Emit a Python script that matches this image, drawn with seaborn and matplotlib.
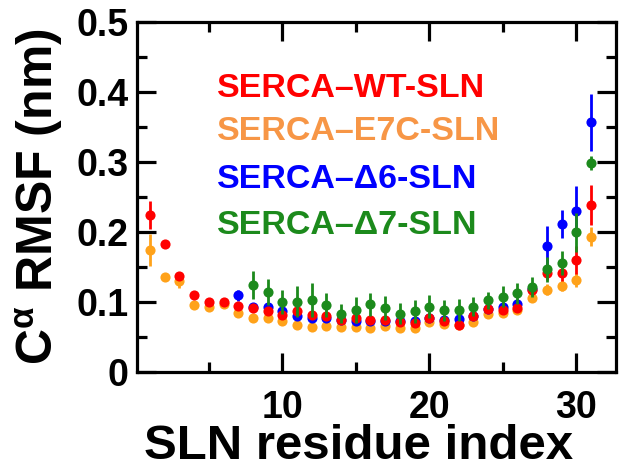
import numpy as np
import seaborn as sns
from matplotlib import pyplot as plt
from matplotlib.ticker import MultipleLocator

# RMSF per residue (nm)
res_wt = list(range(1, 32))
wt = [0.224, 0.183, 0.137, 0.110, 0.100, 0.099, 0.094, 0.091, 0.086, 0.081,
      0.086, 0.081, 0.079, 0.074, 0.077, 0.074, 0.074, 0.071, 0.070, 0.076,
      0.072, 0.067, 0.079, 0.089, 0.088, 0.091, 0.117, 0.141, 0.141, 0.160, 0.238]
wt_err = [0.020, 0.004, 0.004, 0.004, 0.004, 0.004, 0.004, 0.004, 0.004, 0.004,
          0.004, 0.004, 0.004, 0.004, 0.004, 0.004, 0.004, 0.004, 0.004, 0.004,
          0.004, 0.004, 0.004, 0.005, 0.005, 0.005, 0.008, 0.010, 0.012, 0.020, 0.028]

res_e7c = list(range(1, 32))
e7c = [0.174, 0.135, 0.129, 0.095, 0.092, 0.096, 0.084, 0.077, 0.077, 0.072,
       0.067, 0.064, 0.065, 0.064, 0.064, 0.063, 0.065, 0.063, 0.063, 0.071,
       0.068, 0.067, 0.071, 0.083, 0.084, 0.088, 0.105, 0.117, 0.123, 0.131, 0.193]
e7c_err = [0.023, 0.004, 0.010, 0.004, 0.004, 0.004, 0.004, 0.004, 0.004, 0.004,
           0.004, 0.004, 0.004, 0.004, 0.004, 0.004, 0.004, 0.004, 0.004, 0.004,
           0.004, 0.004, 0.004, 0.004, 0.004, 0.005, 0.006, 0.008, 0.008, 0.010, 0.013]

res_d6 = list(range(7, 32))
d6 = [0.109, 0.092, 0.093, 0.086, 0.079, 0.076, 0.077, 0.074, 0.073, 0.072,
      0.073, 0.072, 0.073, 0.076, 0.074, 0.075, 0.080, 0.090, 0.092, 0.097,
      0.118, 0.179, 0.211, 0.229, 0.356]
d6_err = [0.008, 0.004, 0.004, 0.004, 0.004, 0.004, 0.004, 0.004, 0.004, 0.004,
          0.004, 0.004, 0.004, 0.004, 0.004, 0.004, 0.004, 0.005, 0.005, 0.006,
          0.008, 0.029, 0.020, 0.036, 0.041]

res_d7 = list(range(8, 32))
d7 = [0.124, 0.114, 0.100, 0.100, 0.102, 0.095, 0.083, 0.088, 0.096, 0.091,
      0.083, 0.086, 0.093, 0.088, 0.088, 0.093, 0.102, 0.107, 0.112, 0.121,
      0.146, 0.155, 0.199, 0.298]
d7_err = [0.020, 0.019, 0.017, 0.022, 0.024, 0.017, 0.014, 0.018, 0.017, 0.017,
          0.015, 0.017, 0.016, 0.015, 0.016, 0.014, 0.012, 0.015, 0.015, 0.014,
          0.018, 0.017, 0.028, 0.010]

labels = ["SERCA\u2013WT-SLN", "SERCA\u2013E7C-SLN", "SERCA\u2013\u03946-SLN", "SERCA\u2013\u03947-SLN"]

sns.set_theme(style="ticks")
plt.rcParams['font.family'] = ['Liberation Sans', 'DejaVu Sans']
plt.rcParams['font.weight'] = 'bold'
plt.rcParams['text.color'] = 'black'
plt.rcParams['axes.labelcolor'] = 'black'
plt.rcParams['xtick.color'] = 'black'
plt.rcParams['ytick.color'] = 'black'
plt.rcParams['mathtext.fontset'] = 'custom'
plt.rcParams['mathtext.rm'] = 'Liberation Sans:bold'
plt.rcParams['mathtext.it'] = 'Liberation Sans:bold'
plt.rcParams['mathtext.bf'] = 'Liberation Sans:bold'

fig = plt.figure(figsize=(6.19, 4.71), dpi=100)
ax = fig.add_axes([0.221, 0.211, 0.774, 0.743])

series = [
    (res_e7c, e7c, e7c_err, '#FFA21A', 1),
    (res_d6, d6, d6_err, '#0000FF', 2),
    (res_wt, wt, wt_err, '#FF0000', 3),
    (res_d7, d7, d7_err, '#1C8A1C', 4),
]
for x, y, e, c, z in series:
    ax.errorbar(x, y, yerr=e, fmt='o', color=c, ms=7.3, mew=0,
                elinewidth=2, capsize=3.5, capthick=2.2, zorder=z)

text_colors = ['#FF0000', '#F79646', '#0000FF', '#1C8A1C']
text_y = [0.808, 0.687, 0.550, 0.417]
for lab, c, ty in zip(labels, text_colors, text_y):
    ax.text(0.167, ty, lab, color=c, fontsize=24.5, fontweight='bold',
            transform=ax.transAxes, va='center', ha='left')

ax.set_xlim(0.1, 32.7)
ax.set_ylim(0, 0.5)
ax.xaxis.set_major_locator(MultipleLocator(10))
ax.xaxis.set_minor_locator(MultipleLocator(5))
ax.yaxis.set_major_locator(MultipleLocator(0.1))
ax.yaxis.set_minor_locator(MultipleLocator(0.05))
ax.set_xticks([10, 20, 30])
ax.set_yticks([0, 0.1, 0.2, 0.3, 0.4, 0.5])
ax.set_yticklabels(['0', '0.1', '0.2', '0.3', '0.4', '0.5'])

for s in ax.spines.values():
    s.set_linewidth(2.3)
    s.set_color('black')
ax.tick_params(which='both', direction='in', top=True, right=True,
               width=2.3, color='black', labelcolor='black', labelsize=27)
ax.tick_params(which='major', length=14)
ax.tick_params(which='minor', length=7)
ax.tick_params(axis='x', which='major', pad=13)
ax.tick_params(axis='y', which='major', pad=6)
for t in ax.get_xticklabels() + ax.get_yticklabels():
    t.set_fontweight('bold')

ax.set_xlabel('SLN residue index', fontsize=35.5, fontweight='bold', color='black', labelpad=0)
ax.xaxis.set_label_coords(0.462, -0.151)
ax.set_ylabel(r'C$^{\mathbf{\alpha}}$ RMSF (nm)', fontsize=36, fontweight='bold', color='black', labelpad=8)

plt.savefig('out.png', dpi=100)
